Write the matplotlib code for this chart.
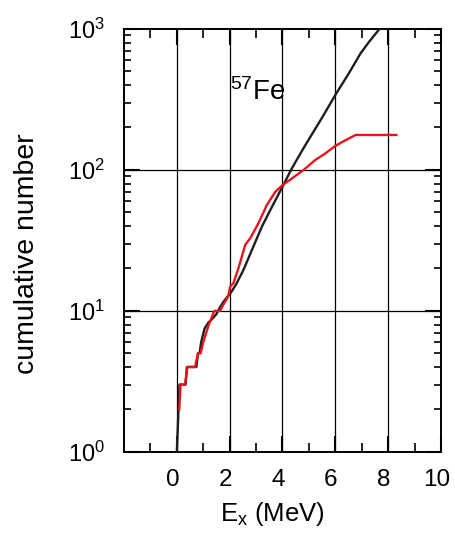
import matplotlib
matplotlib.use("Agg")
import matplotlib.pyplot as plt
from matplotlib.ticker import FixedLocator, LogLocator, NullFormatter, FixedFormatter
from matplotlib.transforms import ScaledTranslation

plt.rcParams['font.family'] = ['Liberation Sans', 'DejaVu Sans']
plt.rcParams['mathtext.fontset'] = 'custom'
plt.rcParams['mathtext.rm'] = 'Liberation Sans'
plt.rcParams['mathtext.it'] = 'Liberation Sans:italic'
plt.rcParams['mathtext.default'] = 'regular'

# calculated cumulative number (black)
black_E = [0.0, 0.10, 0.33, 0.38, 0.74, 0.80, 0.86, 0.92, 1.05, 1.20, 1.30, 1.50,
           1.62, 1.75, 1.90, 2.05, 2.25, 2.52, 2.84, 3.22, 3.54, 4.00, 4.36, 4.80,
           5.00, 5.50, 6.00, 6.50, 6.96, 7.30, 7.59, 7.75]
black_N = [1.0, 3.0, 3.0, 4.0, 4.0, 5.0, 5.0, 6.0, 7.5, 8.3, 8.6, 9.5,
           10.5, 11.5, 12.5, 13.5, 15.5, 19.5, 27, 39.6, 52, 76, 103, 143,
           165, 235, 340, 480, 673, 820, 957, 1050]

# experimental cumulative number (red)
red_E = [0.09, 0.14, 0.31, 0.40, 0.69, 0.80, 0.90, 1.00, 1.20, 1.42, 1.63, 1.80,
         1.94, 2.02, 2.14, 2.33, 2.59, 2.78, 3.09, 3.41, 3.73, 4.00, 4.36, 4.80,
         5.25, 5.60, 6.00, 6.40, 6.77, 8.31]
red_N = [2.0, 3.0, 3.0, 4.0, 4.0, 5.0, 5.0, 6.0, 7.9, 10, 10, 11.4,
         12.6, 14.9, 15.7, 20, 29.4, 32.8, 41.9, 56.5, 70, 78, 87, 100,
         118, 130, 148, 163, 177, 177]

x_ticks = [0, 2, 4, 6, 8, 10]
x_ticklabels = ['0', '2', '4', '6', '8', '10']
y_ticks = [1, 10, 100, 1000]
y_ticklabels = ['$10^0$', '$10^1$', '$10^2$', '$10^3$']
nucleus = '$^{57}$Fe'

fig = plt.figure(figsize=(4.56, 5.36), dpi=100)
ax = fig.add_axes([0.272, 0.157, 0.695, 0.789])

ax.set_yscale('log')
ax.set_xlim(-2, 10)
ax.set_ylim(1, 1000)

# grid lines
for xv in [0, 2, 4, 6, 8]:
    ax.axvline(xv, color='black', lw=0.9, zorder=1)
for yv in [10, 100]:
    ax.axhline(yv, color='black', lw=0.9, zorder=1)

ax.plot(black_E, black_N, color='#1e1e1e', lw=1.7, zorder=3)
ax.plot(red_E, red_N, color='#e8141c', lw=1.7, zorder=4)

ax.xaxis.set_major_locator(FixedLocator(x_ticks))
ax.xaxis.set_major_formatter(FixedFormatter(x_ticklabels))
ax.xaxis.set_minor_locator(FixedLocator([-1, 1, 3, 5, 7, 9]))
ax.yaxis.set_major_locator(FixedLocator(y_ticks))
ax.yaxis.set_major_formatter(FixedFormatter(y_ticklabels))
ax.yaxis.set_minor_locator(LogLocator(base=10, subs=range(2, 10)))
ax.yaxis.set_minor_formatter(NullFormatter())

ax.tick_params(which='both', direction='in', top=True, right=True,
               labelsize=17, colors='black')
ax.tick_params(which='major', length=11.5, width=1.5)
ax.tick_params(axis='x', which='minor', length=6.5, width=1.2)
ax.tick_params(axis='y', which='minor', length=4.8, width=1.2)
ax.tick_params(axis='x', which='major', pad=12, labelsize=17.5)
ax.tick_params(axis='y', which='major', pad=14)

shift = ScaledTranslation(-4.5 / 100, 0, fig.dpi_scale_trans)
for lab in ax.get_xticklabels():
    lab.set_transform(lab.get_transform() + shift)

for s in ax.spines.values():
    s.set_linewidth(1.4)

ax.set_xlabel('E$_x$ (MeV)', fontsize=18.5, va='center', ha='center')
ax.xaxis.set_label_coords(0.467, -0.148)
ax.set_ylabel('cumulative number', fontsize=20.5, va='center', ha='center')
ax.yaxis.set_label_coords(-0.305, 0.469)

ax.text(2.0, 313, nucleus, fontsize=20, ha='left', va='baseline', zorder=5)

fig.savefig('out.png', dpi=100)
